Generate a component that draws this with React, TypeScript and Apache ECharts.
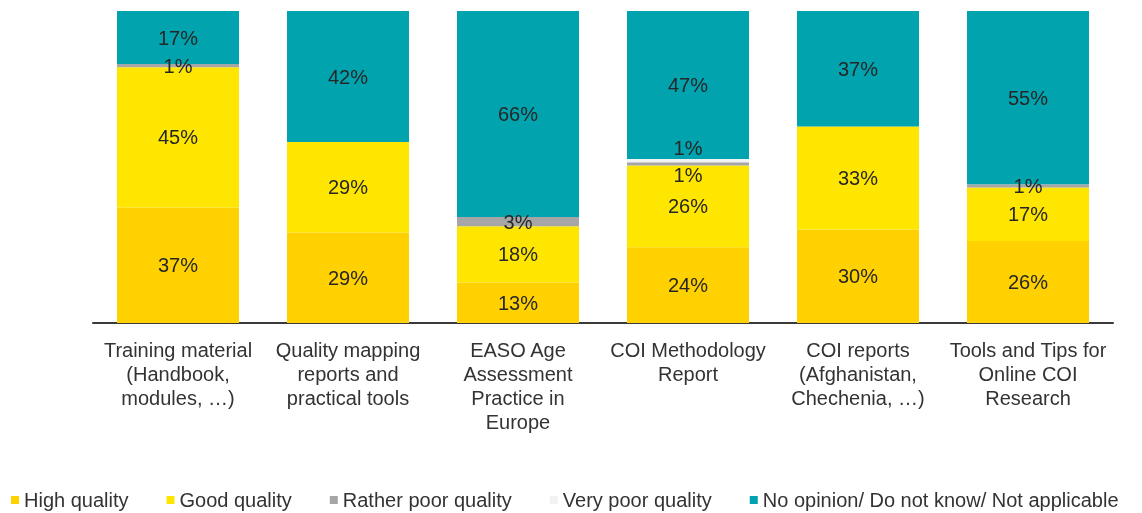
import React, { useEffect, useRef } from "react";
import * as echarts from "echarts";

const categories = [
  "Training material\n(Handbook,\nmodules, …)",
  "Quality mapping\nreports and\npractical tools",
  "EASO Age\nAssessment\nPractice in\nEurope",
  "COI Methodology\nReport",
  "COI reports\n(Afghanistan,\nChechenia, …)",
  "Tools and Tips for\nOnline COI\nResearch",
];

const seriesNames = [
  "High quality",
  "Good quality",
  "Rather poor quality",
  "Very poor quality",
  "No opinion/ Do not know/ Not applicable",
];

const highQuality = [37, 29, 13, 24, 30, 26];
const goodQuality = [45, 29, 18, 26, 33, 17];
const ratherPoor = [1, 0, 3, 1, 0, 1];
const veryPoor = [0, 0, 0, 1, 0, 0];
const noOpinion = [17, 42, 66, 47, 37, 55];

const colors = ["#FFD100", "#FFE600", "#A6A6A6", "#F2F2F2", "#00A3AE"];

// label offsets (style only) per series index -> category index
const labelOffsets: Record<number, Record<number, [number, number]>> = {
  2: { 3: [0, 11] },
  3: { 3: [0, -13] },
};

export default function App() {
  const ref = useRef<HTMLDivElement>(null);
  useEffect(() => {
    if (!ref.current) return;
    const chart = echarts.init(ref.current, null, { renderer: "svg" });
    const allData = [highQuality, goodQuality, ratherPoor, veryPoor, noOpinion];
    // 100% stacked: normalise each category to its total
    const totals = categories.map((_, ci) =>
      allData.reduce((s, arr) => s + arr[ci], 0)
    );
    const font = "'Liberation Sans', Arial, sans-serif";
    chart.setOption({
      animation: false,
      textStyle: { fontFamily: font },
      grid: { left: 93, right: 29, top: 11, bottom: 190 },
      legend: {
        left: 11,
        top: 490,
        padding: 0,
        itemWidth: 8,
        itemHeight: 8,
        itemGap: 38,
        icon: "rect",
        textStyle: { fontSize: 20, color: "#333", fontFamily: font },
        data: seriesNames,
      },
      xAxis: {
        type: "category",
        data: categories,
        axisLine: { lineStyle: { color: "#3a3a3a", width: 2 } },
        axisTick: { show: false },
        axisLabel: {
          interval: 0,
          margin: 15,
          fontSize: 20,
          lineHeight: 24,
          color: "#333",
          fontFamily: font,
        },
      },
      yAxis: {
        type: "value",
        min: 0,
        max: 100,
        show: false,
        splitLine: { show: false },
      },
      series: allData.map((arr, si) => ({
        name: seriesNames[si],
        type: "bar",
        stack: "total",
        barWidth: 122,
        itemStyle: { color: colors[si] },
        label: {
          show: true,
          position: "inside",
          fontSize: 20,
          color: "#262626",
          fontFamily: font,
          formatter: (p: any) => {
            const raw = arr[p.dataIndex];
            return raw ? raw + "%" : "";
          },
        },
        data: arr.map((v, ci) => {
          const nv = (v / totals[ci]) * 100;
          const off = labelOffsets[si] && labelOffsets[si][ci];
          return off ? { value: nv, label: { offset: off } } : nv;
        }),
      })),
    });
    return () => chart.dispose();
  }, []);
  return (
    <div
      ref={ref}
      style={{ position: "fixed", left: 0, top: 0, width: 1142, height: 513 }}
    />
  );
}
